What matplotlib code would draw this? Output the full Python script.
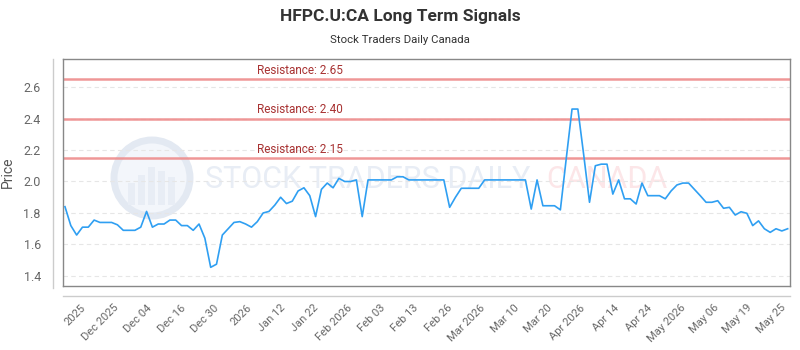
import matplotlib.pyplot as plt
from matplotlib.lines import Line2D
from matplotlib.patches import Circle, Rectangle
from matplotlib.transforms import IdentityTransform
import numpy as np

# daily closing prices
prices = [
    1.84, 1.72, 1.66, 1.71, 1.71, 1.755, 1.74, 1.74, 1.74, 1.725,
    1.69, 1.69, 1.69, 1.71, 1.81, 1.71, 1.73, 1.73, 1.755, 1.755,
    1.72, 1.72, 1.69, 1.73, 1.64, 1.455, 1.475, 1.66, 1.70, 1.74,
    1.745, 1.73, 1.71, 1.745, 1.80, 1.81, 1.85, 1.90, 1.86, 1.875,
    1.94, 1.96, 1.91, 1.777, 1.95, 1.99, 1.96, 2.02, 2.00, 2.00,
    2.01, 1.777, 2.01, 2.01, 2.01, 2.01, 2.01, 2.03, 2.03, 2.01,
    2.01, 2.01, 2.01, 2.01, 2.01, 2.01, 1.836, 1.90, 1.957, 1.957,
    1.957, 1.957, 2.01, 2.01, 2.01, 2.01, 2.01, 2.01, 2.01, 2.01,
    1.825, 2.01, 1.846, 1.846, 1.846, 1.82, 2.143, 2.46, 2.46, 2.17,
    1.868, 2.10, 2.11, 2.11, 1.92, 2.01, 1.89, 1.89, 1.857, 1.99,
    1.91, 1.91, 1.91, 1.89, 1.94, 1.978, 1.99, 1.99, 1.95, 1.91,
    1.868, 1.868, 1.878, 1.83, 1.836, 1.787, 1.808, 1.798, 1.72, 1.75,
    1.70, 1.677, 1.70, 1.686, 1.70,
]
resistance = [2.65, 2.40, 2.15]
tick_labels = [
    '2025', 'Dec 2025', 'Dec 04', 'Dec 16', 'Dec 30', '2026', 'Jan 12',
    'Jan 22', 'Feb 2026', 'Feb 03', 'Feb 13', 'Feb 26', 'Mar 2026',
    'Mar 10', 'Mar 20', 'Apr 2026', 'Apr 14', 'Apr 24', 'May 2026',
    'May 06', 'May 19', 'May 25',
]
y_ticks = [1.4, 1.6, 1.8, 2.0, 2.2, 2.4, 2.6]

plt.rcParams['font.family'] = ['Roboto', 'DejaVu Sans']

fig = plt.figure(figsize=(8, 3.5), dpi=100)
ax = fig.add_axes([0.07875, 0.1829, 0.90875, 0.6486])

x = np.arange(len(prices))

# faint watermark logo (pixel coords)
px = IdentityTransform()
ax.add_patch(Circle((152, 350 - 178), 38, transform=px, facecolor='#f3f6fb',
                    edgecolor='#e3e9f2', lw=5, zorder=0))
for bx, bh in [(128, 22), (138, 30), (148, 38), (158, 34), (168, 28)]:
    ax.add_patch(Rectangle((bx, 350 - 205), 7, bh, transform=px,
                           facecolor='#e8edf5', edgecolor='none', zorder=0))
ax.text(0.195, 0.47, 'STOCK TRADERS DAILY', transform=ax.transAxes,
        fontsize=22, color='#e8edf5', va='center', ha='left', zorder=0)
ax.text(0.665, 0.47, 'CANADA', transform=ax.transAxes,
        fontsize=22, color='#fce6e8', va='center', ha='left', zorder=0)

for y in y_ticks:
    ax.axhline(y, color='#e6e6e6', lw=0.8, ls=(0, (4, 3)), zorder=1)

for r in resistance:
    ax.axhline(r, color='#ee8c8c', lw=1.8, alpha=0.9, zorder=2)
    ax.text(0.326, r + 0.015, 'Resistance: {:.2f}'.format(r),
            transform=ax.get_yaxis_transform(), ha='center', va='bottom',
            fontsize=8.5, color='#a83232', zorder=3)

ax.plot(x, prices, color='#2f9ff2', lw=1.2, zorder=4)

ax.set_xlim(-0.34, 124.4)
ax.set_ylim(1.3365, 2.778)
ax.set_yticks(y_ticks)
ax.set_yticklabels(['{:.1f}'.format(v) for v in y_ticks])
ax.set_xticks(np.linspace(2.6, 122.7, len(tick_labels)))
ax.set_xticklabels(tick_labels, rotation=45, ha='right',
                   rotation_mode='anchor')
ax.tick_params(axis='x', length=0, pad=12, labelsize=8, colors='#666666')
ax.tick_params(axis='y', length=0, pad=16, labelsize=9, colors='#666666')
ax.set_ylabel('Price', fontsize=10, color='#555555')
ax.yaxis.set_label_coords((15 - 63) / 727, 0.5)

for s in ax.spines.values():
    s.set_color('#888888')
    s.set_linewidth(1.0)

# outer axis lines
fig.add_artist(Line2D([53 / 800, 53 / 800], [1 - 59 / 350, 1 - 288 / 350],
                      color='#cccccc', lw=1))
fig.add_artist(Line2D([63 / 800, 790 / 800], [1 - 296 / 350, 1 - 296 / 350],
                      color='#cccccc', lw=1))

fig.text(0.5, 1 - 16 / 350, 'HFPC.U:CA Long Term Signals', ha='center',
         va='center', fontsize=12.5, fontweight='bold', color='#333333')
fig.text(0.5, 1 - 40 / 350, 'Stock Traders Daily Canada', ha='center',
         va='center', fontsize=8.2, color='#333333')

fig.savefig('out.png', dpi=100)
